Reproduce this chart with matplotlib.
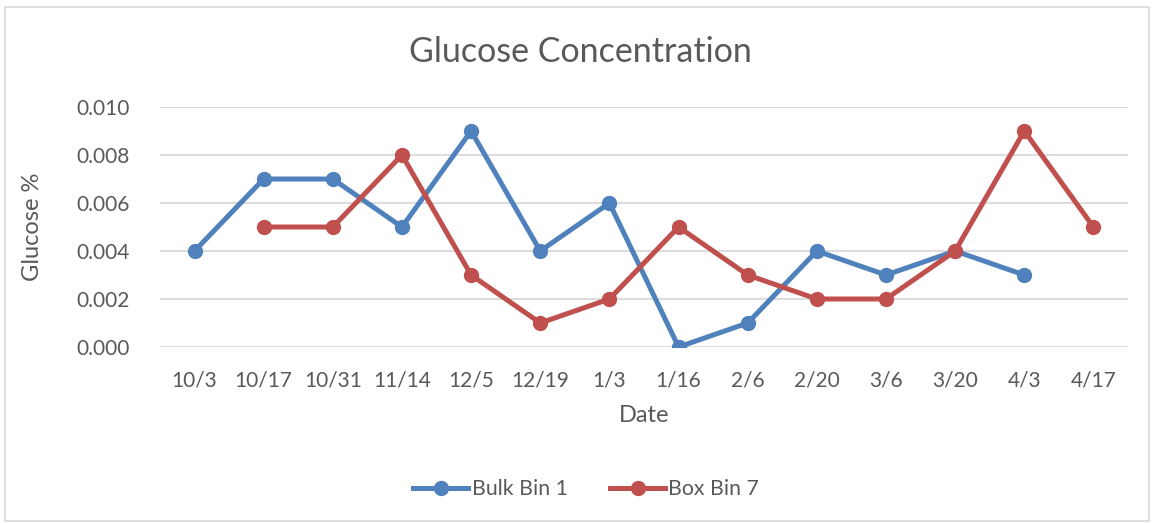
import matplotlib.pyplot as plt
import numpy as np
from matplotlib.patches import Rectangle

plt.rcParams['font.family'] = ['Lato', 'DejaVu Sans']

# data
dates = ["10/3", "10/17", "10/31", "11/14", "12/5", "12/19", "1/3",
         "1/16", "2/6", "2/20", "3/6", "3/20", "4/3", "4/17"]
bulk_bin_1 = [0.004, 0.007, 0.007, 0.005, 0.009, 0.004, 0.006,
              0.000, 0.001, 0.004, 0.003, 0.004, 0.003, np.nan]
box_bin_7 = [np.nan, 0.005, 0.005, 0.008, 0.003, 0.001, 0.002,
             0.005, 0.003, 0.002, 0.002, 0.004, 0.009, 0.005]

blue = '#4F81BD'
red = '#C0504D'
text_color = '#595959'
grid_color = '#D9D9D9'

fig = plt.figure(figsize=(11.54, 5.23), dpi=100)
ax = fig.add_axes([0.1386, 0.3365, 0.9775 - 0.1386, 0.7954 - 0.3365])

x = np.arange(len(dates))
ax.plot(x, bulk_bin_1, color=blue, lw=3.6, marker='o', ms=10, label='Bulk Bin 1')
ax.plot(x, box_bin_7, color=red, lw=3.6, marker='o', ms=10, label='Box Bin 7')

ax.set_xlim(-0.5, len(dates) - 0.5)
ax.set_ylim(0, 0.010)
ax.set_yticks(np.arange(0, 0.0101, 0.002))
ax.set_yticklabels([f'{v:.3f}' for v in np.arange(0, 0.0101, 0.002)])
ax.set_xticks(x)
ax.set_xticklabels(dates)
ax.tick_params(length=0, labelsize=15, colors=text_color, pad=17)
ax.tick_params(axis='y', pad=22)
ax.grid(axis='y', color=grid_color, lw=1.3)
ax.set_axisbelow(True)
for s in ax.spines.values():
    s.set_visible(False)

fig.suptitle('Glucose Concentration', fontsize=24.5, color=text_color,
             x=0.503, y=0.9, va='center')
ax.set_xlabel('Date', fontsize=17, color=text_color, labelpad=10)
ax.set_ylabel('Glucose %', fontsize=17, color=text_color, labelpad=24)

fig.legend(loc='center', bbox_to_anchor=(0.508, 0.065), ncol=2, frameon=False,
           fontsize=15.3, labelcolor=text_color, handlelength=2.6, columnspacing=2.0,
           handletextpad=0.15)

fig.add_artist(Rectangle((0.004, 0.004), 0.992, 0.982, transform=fig.transFigure,
                         fill=False, edgecolor=grid_color, lw=1.2))

fig.savefig('out.png', dpi=100)
